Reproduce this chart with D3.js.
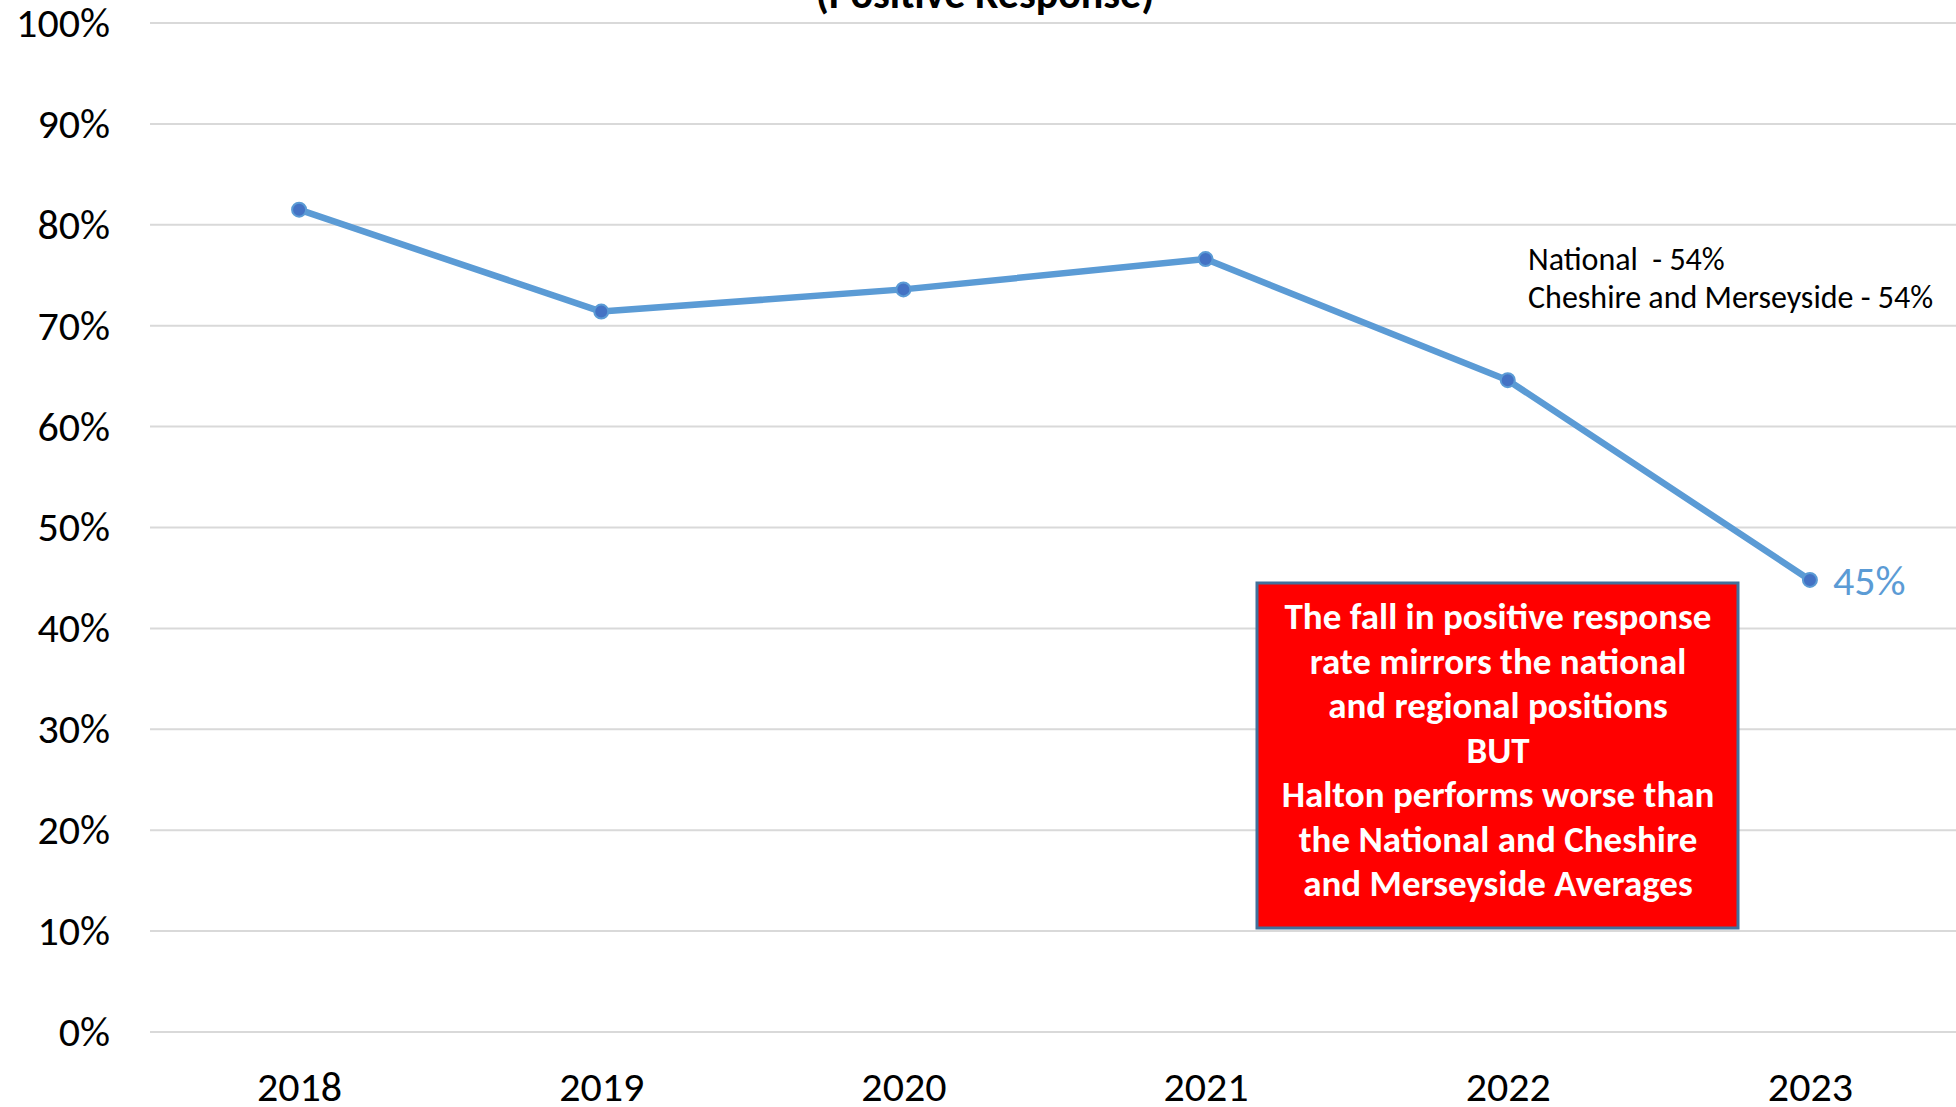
<!DOCTYPE html>
<html>
<head lang="en">
    <meta charset="UTF-8">
    <script src="https://cdn.jsdelivr.net/npm/d3@7/dist/d3.min.js"></script>
    <style>
        body { margin: 0; background: #fff; }
        svg { display: block; font-family: Carlito, Lato, sans-serif; }
    </style>
</head>
<body>
<svg width="1956" height="1107"></svg>
<script>
    var years = ['2018', '2019', '2020', '2021', '2022', '2023'];
    var positive = [0.815, 0.714, 0.736, 0.766, 0.646, 0.448];
    var yTicks = [0, 0.1, 0.2, 0.3, 0.4, 0.5, 0.6, 0.7, 0.8, 0.9, 1.0];
    var titleText = '(Positive Response)';
    var avgLines = ['National  - 54%', 'Cheshire and Merseyside - 54%'];
    var boxLines = [
        'The fall in positive response',
        'rate mirrors the national',
        'and regional positions',
        'BUT',
        'Halton performs worse than',
        'the National and Cheshire',
        'and Merseyside Averages'
    ];

    var colors = {
        LINE: '#5b9bd5',
        MARKER: '#4472c4',
        GRID: '#d9d9d9',
        TEXT: '#000000',
        BOX: '#ff0000',
        BOX_EDGE: '#41719c'
    };

    var svg = d3.select('svg');
    var x = d3.scalePoint().domain(years).range([148, 1961]).padding(0.5);
    var y = d3.scaleLinear().domain([0, 1]).range([1032, 23]);

    // title (mostly cut off at the top)
    svg.append('text')
            .attr('x', 985)
            .attr('y', 8)
            .attr('text-anchor', 'middle')
            .attr('font-size', 42)
            .attr('font-weight', 'bold')
            .text(titleText);

    // gridlines
    svg.append('g')
            .selectAll('line')
            .data(yTicks)
            .enter()
            .append('line')
            .attr('x1', 150)
            .attr('x2', 1956)
            .attr('y1', function (d) { return y(d); })
            .attr('y2', function (d) { return y(d); })
            .attr('stroke', colors.GRID)
            .attr('stroke-width', 2);

    // y axis labels
    var yAxis = svg.append('g')
            .attr('transform', 'translate(110,0)')
            .call(d3.axisLeft(y).tickValues(yTicks).tickFormat(d3.format('.0%')).tickSize(0).tickPadding(0));
    yAxis.select('.domain').remove();
    yAxis.selectAll('text')
            .attr('font-family', 'Carlito, Lato, sans-serif')
            .attr('font-size', 42)
            .attr('fill', colors.TEXT);

    // x axis labels
    var xAxis = svg.append('g')
            .attr('transform', 'translate(0,1101)')
            .call(d3.axisBottom(x).tickSize(0).tickPadding(0));
    xAxis.select('.domain').remove();
    xAxis.selectAll('text')
            .attr('y', 0)
            .attr('dy', null)
            .attr('font-family', 'Carlito, Lato, sans-serif')
            .attr('font-size', 42)
            .attr('fill', colors.TEXT);

    // series line
    var line = d3.line()
            .x(function (d, i) { return x(years[i]); })
            .y(function (d) { return y(d); });
    svg.append('path')
            .datum(positive)
            .attr('d', line)
            .attr('fill', 'none')
            .attr('stroke', colors.LINE)
            .attr('stroke-width', 6.5)
            .attr('stroke-linejoin', 'round');

    svg.append('g')
            .selectAll('circle')
            .data(positive)
            .enter()
            .append('circle')
            .attr('cx', function (d, i) { return x(years[i]); })
            .attr('cy', function (d) { return y(d); })
            .attr('r', 7)
            .attr('fill', colors.MARKER)
            .attr('stroke', colors.LINE)
            .attr('stroke-width', 2);

    // last value label
    var last = positive.length - 1;
    svg.append('text')
            .attr('x', x(years[last]) + 23)
            .attr('y', y(positive[last]) + 15)
            .attr('font-size', 42)
            .attr('fill', colors.LINE)
            .text(d3.format('.0%')(positive[last]));

    // averages note
    svg.append('g')
            .selectAll('text')
            .data(avgLines)
            .enter()
            .append('text')
            .attr('x', 1528)
            .attr('y', function (d, i) { return 270 + i * 38; })
            .attr('font-size', 32)
            .attr('fill', colors.TEXT)
            .attr('xml:space', 'preserve')
            .style('white-space', 'pre')
            .text(function (d) { return d; });

    // red callout box
    var box = svg.append('g');
    box.append('rect')
            .attr('x', 1257)
            .attr('y', 583)
            .attr('width', 481)
            .attr('height', 345)
            .attr('fill', colors.BOX)
            .attr('stroke', colors.BOX_EDGE)
            .attr('stroke-width', 3);
    box.selectAll('text')
            .data(boxLines)
            .enter()
            .append('text')
            .attr('x', 1498)
            .attr('y', function (d, i) { return 629 + i * 44.5; })
            .attr('text-anchor', 'middle')
            .attr('font-size', 37)
            .attr('font-weight', 'bold')
            .attr('fill', '#ffffff')
            .text(function (d) { return d; });
</script>
</body>
</html>
